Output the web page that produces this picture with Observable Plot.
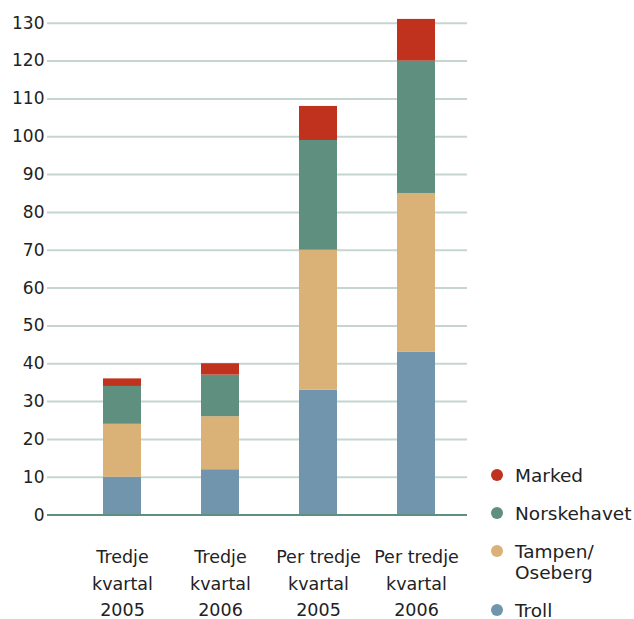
<!DOCTYPE html>
<html>
<head>
<meta charset="utf-8">
<script src="https://cdn.jsdelivr.net/npm/d3@7"></script>
<script src="https://cdn.jsdelivr.net/npm/@observablehq/plot@0.6"></script>
<style>
  body { margin: 0; background: #fff; font-family: "DejaVu Sans", Verdana, sans-serif; }
  #wrap { position: relative; width: 634px; height: 619px; overflow: hidden; }
  #chart { position: absolute; left: 0; top: 0; }
  .leg { position: absolute; left: 515px; font-size: 18.5px; line-height: 21px; color: #222; white-space: nowrap; }
  .dot { position: absolute; left: 491px; width: 12px; height: 12px; border-radius: 50%; }
</style>
</head>
<body>
<div id="wrap"><div id="chart"></div></div>
<script>
const categories = ["Tredje\nkvartal\n2005", "Tredje\nkvartal\n2006", "Per tredje\nkvartal\n2005", "Per tredje\nkvartal\n2006"];
const seriesNames = ["Troll", "Tampen/Oseberg", "Norskehavet", "Marked"];
const legendLabels = ["Troll", "Tampen/\nOseberg", "Norskehavet", "Marked"];
const colors = ["#7195ad", "#dab177", "#5f8f7f", "#c0321d"];
const troll = [10, 12, 33, 43];
const tampen = [14, 14, 37, 42];
const norskehavet = [10, 11, 29, 35];
const marked = [2, 3, 9, 11];
const yTicks = d3.range(0, 131, 10);

const seriesValues = [troll, tampen, norskehavet, marked];
const data = [];
seriesNames.forEach((s, si) => categories.forEach((c, ci) => data.push({cat: c, series: s, value: seriesValues[si][ci]})));

const chart = Plot.plot({
  width: 634,
  height: 619,
  marginTop: 22.7,
  marginBottom: 104.4,
  marginLeft: 47,
  marginRight: 167,
  style: {fontFamily: "DejaVu Sans, Verdana, sans-serif", color: "#222", background: "white"},
  x: {domain: categories, range: [71.8, 465.2], paddingInner: 0.6136, paddingOuter: 0.3068, align: 0.5},
  y: {domain: [0, 130]},
  color: {domain: seriesNames, range: colors},
  marks: [
    Plot.ruleY(yTicks, {stroke: "#c5d6d1", strokeWidth: 2}),
    Plot.barY(data, {x: "cat", y: "value", fill: "series", order: seriesNames}),
    Plot.ruleY([0], {stroke: "#5f8f7f", strokeWidth: 2}),
    Plot.axisY({ticks: yTicks, tickSize: 0, tickPadding: 3, fontSize: 17, label: null}),
    Plot.axisX({tickSize: 0, tickPadding: 29, fontSize: 17.5, lineHeight: 1.52, label: null})
  ]
});
document.getElementById("chart").appendChild(chart);

// legend (HTML, top to bottom: Marked, Norskehavet, Tampen/Oseberg, Troll)
const legendTops = {"Marked": 475, "Norskehavet": 513, "Tampen/Oseberg": 551, "Troll": 610};
const wrap = document.getElementById("wrap");
seriesNames.forEach((s, i) => {
  const cy = legendTops[s];
  const d = document.createElement("div");
  d.className = "dot";
  d.style.top = (cy - 6) + "px";
  d.style.background = colors[i];
  wrap.appendChild(d);
  const t = document.createElement("div");
  t.className = "leg";
  t.style.top = (cy - 10.5) + "px";
  t.innerHTML = legendLabels[i].split("\n").join("<br>");
  wrap.appendChild(t);
});
</script>
</body>
</html>
